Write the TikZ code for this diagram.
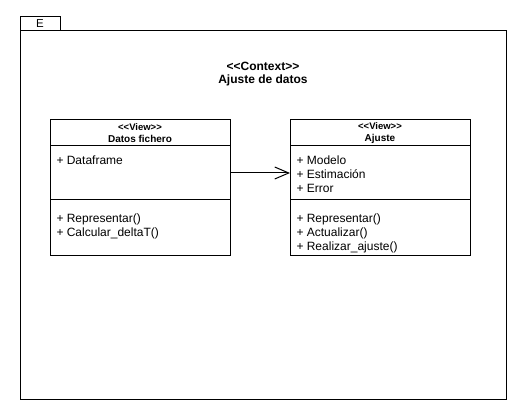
\documentclass[tikz,border=0pt]{standalone}
\usepackage{fontspec}
\setmainfont{Liberation Sans}
\usetikzlibrary{positioning,arrows.meta}

\begin{document}
\begin{tikzpicture}[x=1pt,y=-1pt, line width=1pt,
  part/.style={rectangle, draw, minimum width=180pt, inner sep=0pt, outer sep=0pt, anchor=north west},
  members/.style={anchor=north west, align=left, inner sep=0pt, font=\fontsize{12}{14}\selectfont},
  head/.style={align=center, inner sep=0pt, font=\bfseries\fontsize{10}{11.5}\selectfont}]
\useasboundingbox (0,0) rectangle (517,411);

% Frame and tab
\node[rectangle, draw, minimum width=486pt, minimum height=369pt, inner sep=0pt, outer sep=0pt, anchor=north west] (frame) at (20,31) {};
\node[rectangle, draw, minimum width=40pt, minimum height=14pt, inner sep=0pt, outer sep=0pt, anchor=south west, font=\fontsize{11.5}{13}\selectfont] (tab) at (frame.north west) {E};

% Context title
\node[align=center, inner sep=0pt, font=\bfseries\fontsize{12}{13}\selectfont] (context) at (263,74) {<{}<Context>{}> \\ Ajuste de datos};

% Class Datos fichero
\node[part, minimum height=26pt] (datoshead) at (50,120) {};
\node[part, minimum height=54pt] (datosattr) at (datoshead.south west) {};
\node[part, minimum height=56pt] (datosops) at (datosattr.south west) {};
\node[head] (datostitle) at (datoshead.center) {{\fontsize{9.5}{10}\selectfont <{}<View>{}>} \\ Datos fichero};
\node[members, below right=9pt and 6pt of datosattr.north west] (datosattrtext) {+ Dataframe};
\node[members, below right=13pt and 6pt of datosops.north west] (datosopstext) {+ Representar() \\ + Calcular\_deltaT()};

% Class Ajuste
\node[part, minimum height=26pt] (ajustehead) at (290,120) {};
\node[part, minimum height=54pt] (ajusteattr) at (ajustehead.south west) {};
\node[part, minimum height=56pt] (ajusteops) at (ajusteattr.south west) {};
\node[head] (ajustetitle) at (ajustehead.center) {{\fontsize{9.5}{10}\selectfont <{}<View>{}>} \\ Ajuste};
\node[members, below right=9pt and 6pt of ajusteattr.north west] (ajusteattrtext) {+ Modelo \\ + Estimación \\ + Error};
\node[members, below right=13pt and 6pt of ajusteops.north west] (ajusteopstext) {+ Representar() \\ + Actualizar() \\ + Realizar\_ajuste()};

% Association
\draw[-{Straight Barb[length=14pt,width=12pt]}] (datosattr.east) -- (ajusteattr.west);

\end{tikzpicture}
\end{document}
